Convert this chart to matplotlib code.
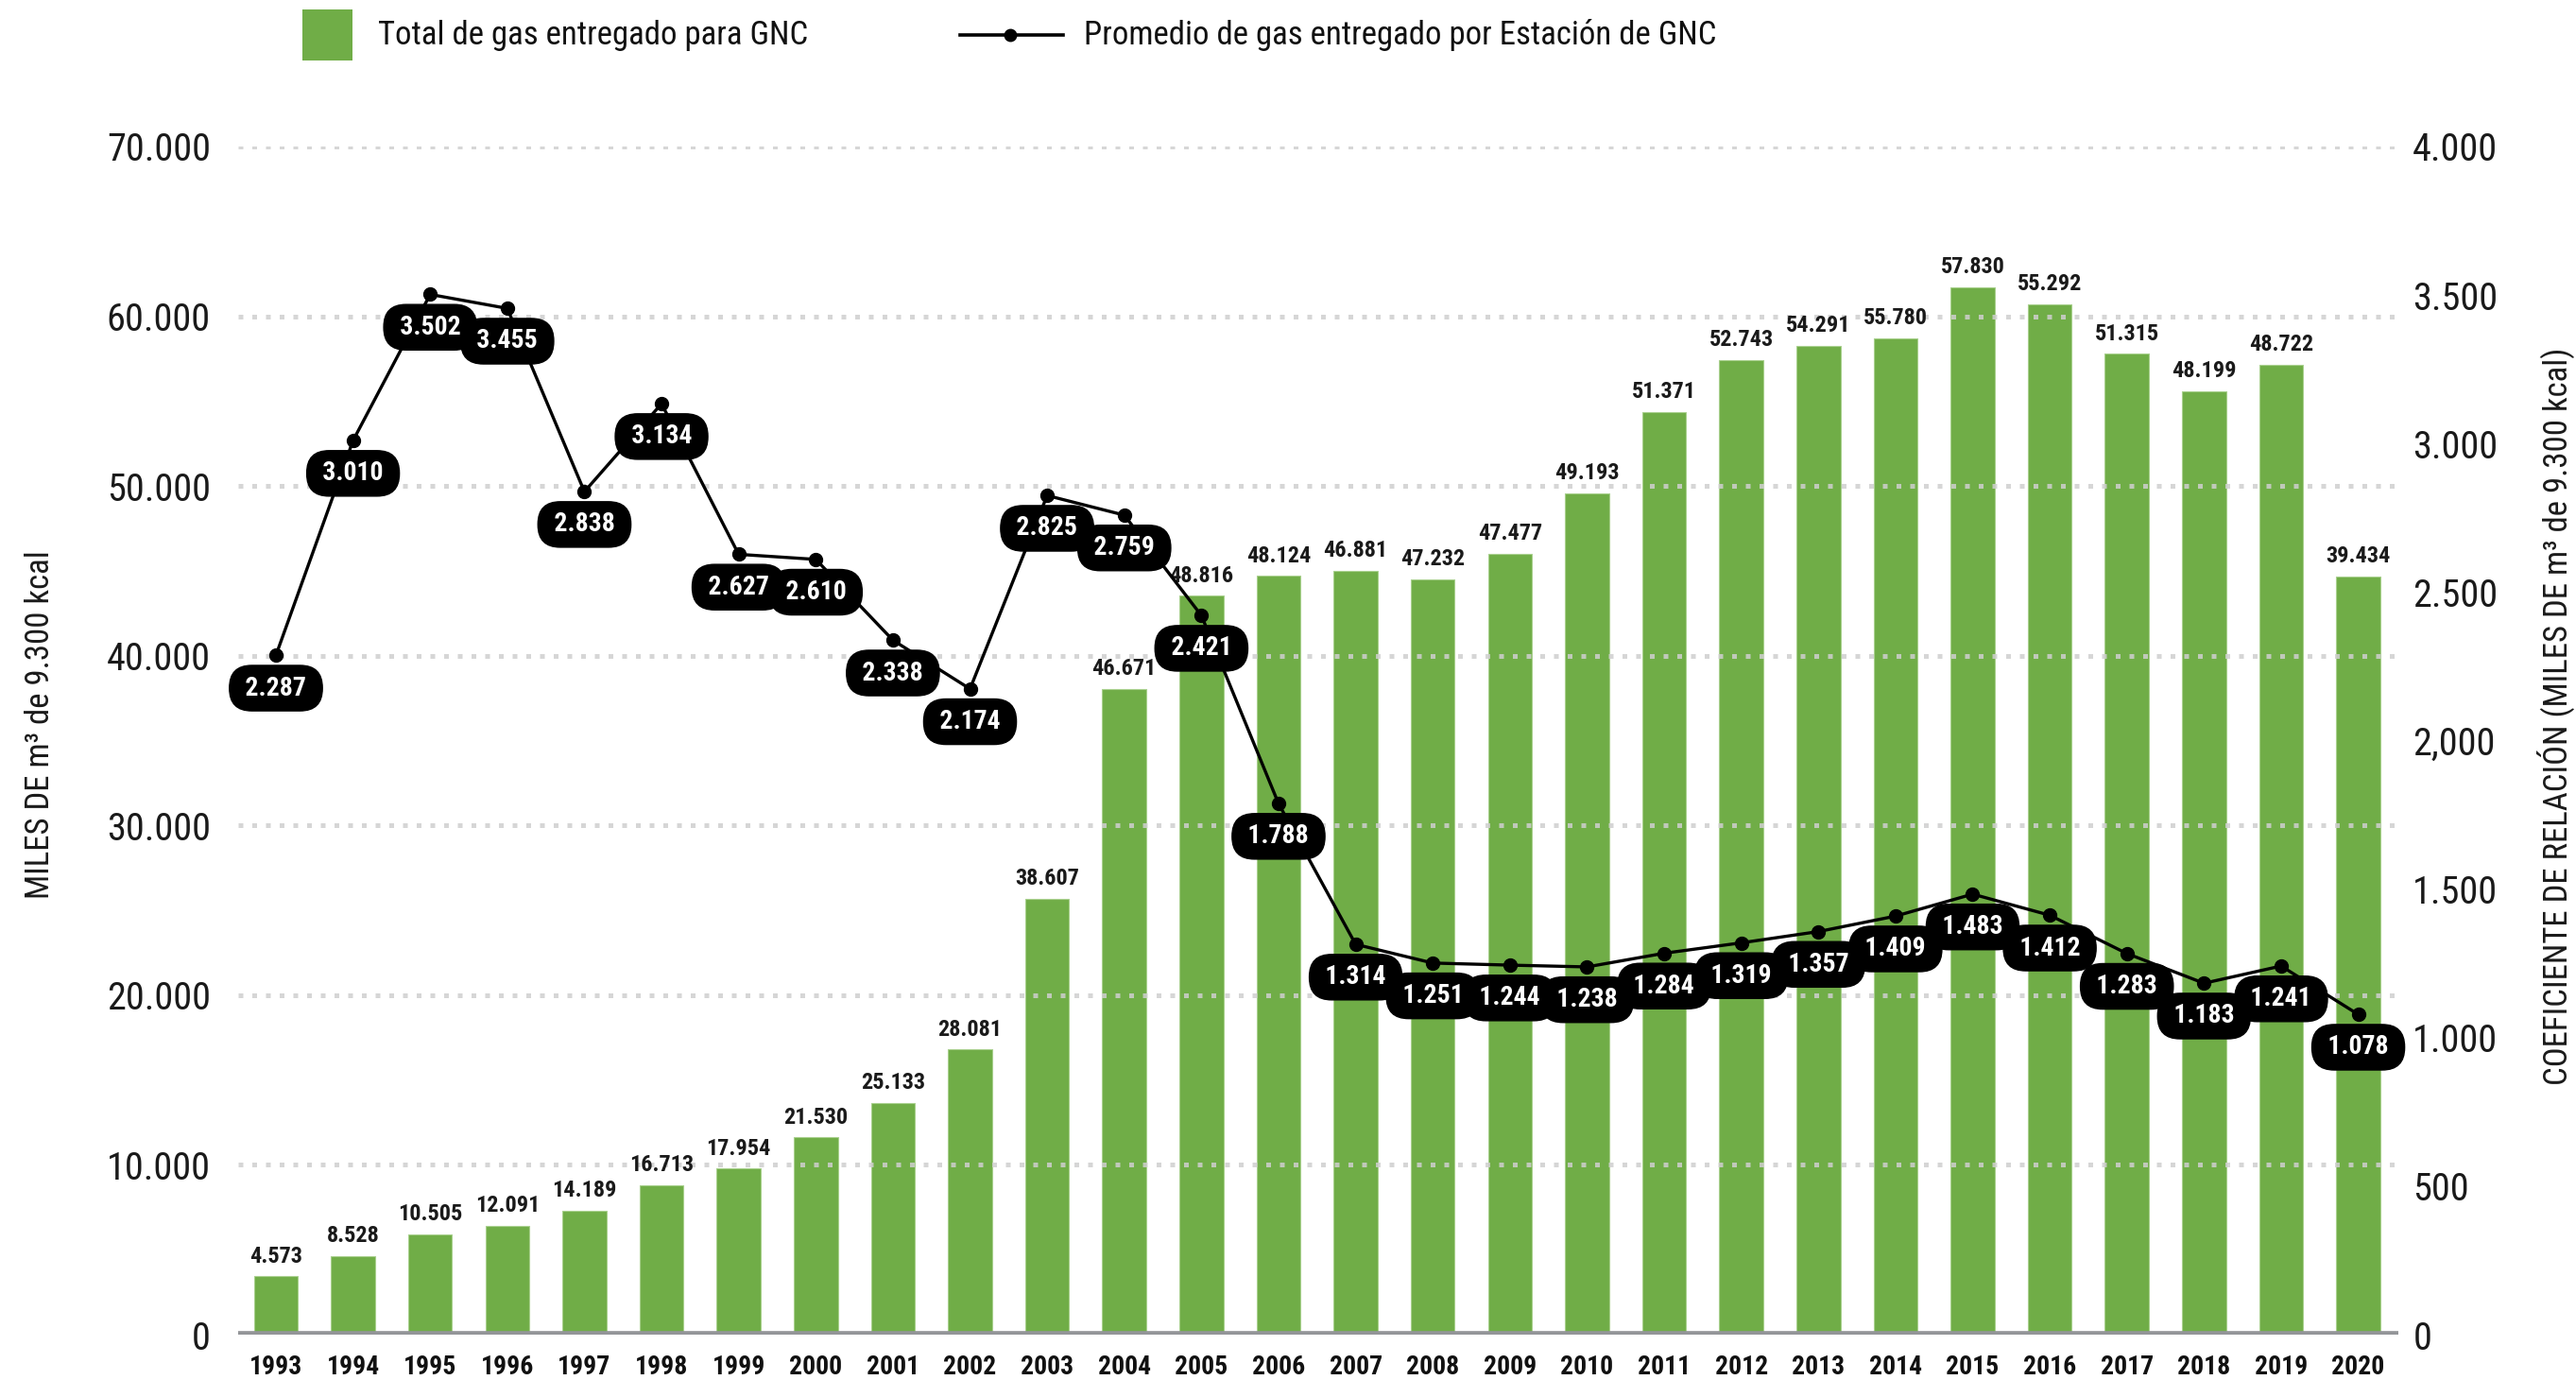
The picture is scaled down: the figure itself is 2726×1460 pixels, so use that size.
import matplotlib
matplotlib.use("Agg")
import matplotlib.pyplot as plt
from matplotlib.lines import Line2D
from matplotlib.patches import Rectangle

FAM = ['Roboto Condensed', 'Liberation Sans Narrow', 'DejaVu Sans Condensed', 'DejaVu Sans']
plt.rcParams['font.family'] = FAM

# ---------------- data ----------------
years = ['1993', '1994', '1995', '1996', '1997', '1998', '1999', '2000', '2001', '2002',
         '2003', '2004', '2005', '2006', '2007', '2008', '2009', '2010', '2011', '2012',
         '2013', '2014', '2015', '2016', '2017', '2018', '2019', '2020']
# bar heights as drawn in the picture (left axis)
bar_heights = [3433, 4627, 5914, 6399, 7295, 8787, 9776, 11623, 13657, 16791,
               25700, 38060, 43526, 44701, 45000, 44515, 46007, 49572, 54376, 57412,
               58250, 58696, 61695, 60708, 57784, 55587, 57151, 44674]
# values printed above the bars
bar_labels = [4573, 8528, 10505, 12091, 14189, 16713, 17954, 21530, 25133, 28081,
              38607, 46671, 48816, 48124, 46881, 47232, 47477, 49193, 51371, 52743,
              54291, 55780, 57830, 55292, 51315, 48199, 48722, 39434]
# average per station (right axis)
line_values = [2287, 3010, 3502, 3455, 2838, 3134, 2627, 2610, 2338, 2174,
               2825, 2759, 2421, 1788, 1314, 1251, 1244, 1238, 1284, 1319,
               1357, 1409, 1483, 1412, 1283, 1183, 1241, 1078]
left_ticks = [0, 10000, 20000, 30000, 40000, 50000, 60000, 70000]
left_ticklabels = ['0', '10.000', '20.000', '30.000', '40.000', '50.000', '60.000', '70.000']
right_ticks = [0, 500, 1000, 1500, 2000, 2500, 3000, 3500, 4000]
right_ticklabels = ['0', '500', '1.000', '1.500', '2,000', '2.500', '3.000', '3.500', '4.000']
legend_bar = 'Total de gas entregado para GNC'
legend_line = 'Promedio de gas entregado por Estación de GNC'
ylabel_left = 'MILES DE m³ de 9.300 kcal'
ylabel_right = 'COEFICIENTE DE RELACIÓN (MILES DE m³ de 9.300 kcal)'

GREEN = '#70AD47'
GRID = '#cfcfcf'
BASE = '#939598'


def fmt(v):
    return f"{v:,}".replace(",", ".")


W, H = 2726, 1460
fig = plt.figure(figsize=(W / 100, H / 100), dpi=100)
ax = fig.add_axes([252 / W, 1 - 1412 / H, (2538 - 252) / W, (1412 - 155) / H])
x = list(range(len(years)))

ax.bar(x, bar_heights, width=0.57, color=GREEN, edgecolor='#a8d08d', linewidth=0.8, zorder=2)
ax.set_xlim(-0.49, 27.52)
ax.set_ylim(0, 70000)
ax.set_yticks(left_ticks)
ax.set_yticklabels(left_ticklabels)
ax.set_xticks(x)
ax.set_xticklabels(years, fontweight='bold')
ax.tick_params(axis='y', length=0, pad=21, labelsize=29, labelcolor='#1a1a1a')
ax.tick_params(axis='x', length=0, pad=15, labelsize=20, labelcolor='#111111')
for s in ax.spines.values():
    s.set_visible(False)
ax.yaxis.grid(True, color=GRID, linewidth=3.6, linestyle=(0, (1.0, 1.9)), zorder=3, alpha=0.85)
ax.set_axisbelow(False)
ax.axhline(0, color=BASE, linewidth=5.5, zorder=4)

for xi, h, lab in zip(x, bar_heights, bar_labels):
    ax.annotate(fmt(lab), (xi, h), xytext=(0, 7), textcoords='offset points',
                ha='center', va='bottom', fontsize=17.5, fontweight='bold', color='#1a1a1a', zorder=5)

ax2 = ax.twinx()
ax2.set_ylim(0, 4000)
ax2.set_yticks(right_ticks)
ax2.set_yticklabels(right_ticklabels)
ax2.tick_params(axis='y', length=0, pad=11, labelsize=29, labelcolor='#1a1a1a')
for s in ax2.spines.values():
    s.set_visible(False)
ax2.plot(x, line_values, color='black', linewidth=2.4, marker='o', markersize=10, zorder=6)
for xi, v in zip(x, line_values):
    ax2.annotate(' ' + fmt(v) + ' ', (xi, v), xytext=(0, -25), textcoords='offset points',
                 ha='center', va='center', fontsize=20, fontweight='bold', color='white', zorder=7,
                 bbox=dict(boxstyle='round,pad=0.38,rounding_size=0.85', fc='black', ec='black', lw=1))

# axis titles
fig.text(43 / W, 1 - 767 / H, ylabel_left, rotation=90, ha='center', va='center', fontsize=25, color='#1a1a1a')
fig.text(2705 / W, 1 - 758 / H, ylabel_right, rotation=90, ha='center', va='center', fontsize=25, color='#1a1a1a')

# legend
fig.add_artist(Rectangle((320 / W, 1 - 64 / H), 53 / W, 54 / H, transform=fig.transFigure,
                         facecolor=GREEN, edgecolor='none'))
fig.text(400 / W, 1 - 37 / H, legend_bar, ha='left', va='center', fontsize=25, color='#111111')
fig.add_artist(Line2D([1016 / W, 1125 / W], [1 - 37 / H, 1 - 37 / H], transform=fig.transFigure,
                      color='black', linewidth=2.6))
fig.add_artist(Line2D([1069 / W], [1 - 37 / H], transform=fig.transFigure, color='black',
                      marker='o', markersize=9, linestyle='none'))
fig.text(1147 / W, 1 - 37 / H, legend_line, ha='left', va='center', fontsize=25, color='#111111')

fig.savefig('out.png', dpi=100, facecolor='white')
